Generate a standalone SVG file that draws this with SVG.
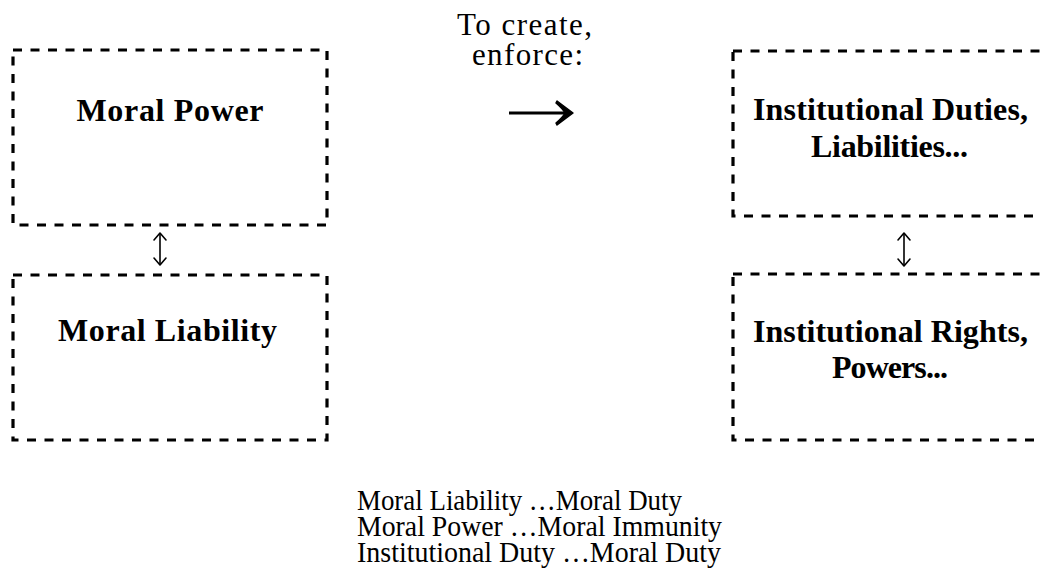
<svg xmlns="http://www.w3.org/2000/svg" width="1041" height="584" viewBox="0 0 1041 584">
<style>
.box{fill:none;stroke:#000;stroke-width:3.2;stroke-dasharray:9 8.5}
.bt{font-family:"Liberation Serif","Times New Roman",serif;font-weight:bold;font-size:32px;fill:#000;text-anchor:middle}
.rt{font-family:"Liberation Serif","Times New Roman",serif;font-size:31px;fill:#000}
.nt{font-family:"Liberation Serif","Times New Roman",serif;font-size:29px;fill:#000}
.thin{fill:none;stroke:#000;stroke-width:1.6;stroke-linecap:round;stroke-linejoin:round}
</style>
<rect width="1041" height="584" fill="#fff"/>
<g id="moral-power">
<rect class="box" x="13" y="50" width="314" height="175"/>
<text class="bt" x="170" y="121" textLength="187">Moral Power</text>
</g>
<g id="moral-liability">
<rect class="box" x="13" y="275" width="314" height="165"/>
<text class="bt" x="167.5" y="341" textLength="219">Moral Liability</text>
</g>
<g id="institutional-duties">
<rect class="box" x="733" y="51" width="330" height="165"/>
<text class="bt" x="890.5" y="120" textLength="275">Institutional Duties,</text>
<text class="bt" x="889.5" y="157" textLength="157">Liabilities...</text>
</g>
<g id="institutional-rights">
<rect class="box" x="733" y="274" width="330" height="166"/>
<text class="bt" x="890.5" y="342" textLength="275">Institutional Rights,</text>
<text class="bt" x="890" y="378" textLength="116">Powers...</text>
</g>
<g id="connectors">
<text class="rt" x="457" y="35" textLength="135">To create,</text>
<text class="rt" x="472" y="65" textLength="111">enforce:</text>
<line x1="509" y1="113" x2="568" y2="113" stroke="#000" stroke-width="3"/>
<path d="M557,101 L573,113 L557,125 L556,123 Q563,117 565,113 Q563,109 556,103 Z" fill="#000" stroke="#000" stroke-width="1.5" stroke-linejoin="round"/>
<g>
<line class="thin" x1="160" y1="234" x2="160" y2="264"/>
<polyline class="thin" points="154,240 160,233 166,240"/>
<polyline class="thin" points="154,258 160,265 166,258"/>
</g>
<g>
<line class="thin" x1="904" y1="234" x2="904" y2="265"/>
<polyline class="thin" points="898,240 904,233 910,240"/>
<polyline class="thin" points="898,259 904,266 910,259"/>
</g>
</g>
<g id="notes">
<text class="nt" x="357" y="510" textLength="325" lengthAdjust="spacingAndGlyphs">Moral Liability …Moral Duty</text>
<text class="nt" x="357" y="536" textLength="365" lengthAdjust="spacingAndGlyphs">Moral Power …Moral Immunity</text>
<text class="nt" x="357" y="562" textLength="364" lengthAdjust="spacingAndGlyphs">Institutional Duty …Moral Duty</text>
</g>
</svg>
